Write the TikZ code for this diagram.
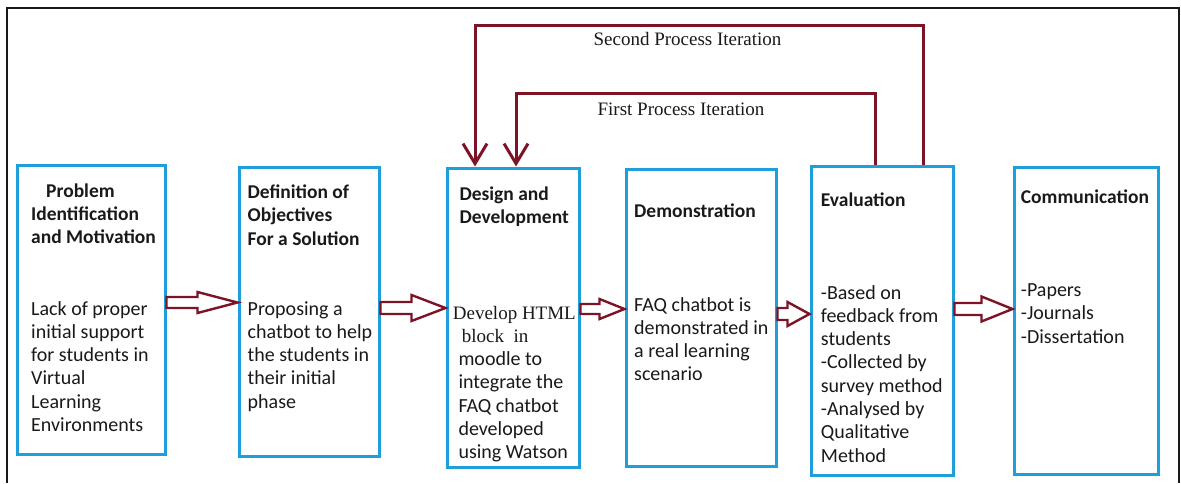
\documentclass[tikz,border=0pt]{standalone}
\usepackage{fontspec}
\setmainfont{Carlito}
\newfontfamily\tnr{Liberation Serif}
\usetikzlibrary{arrows.meta,calc}
\definecolor{boxblue}{RGB}{30,158,218}
\definecolor{maroon}{RGB}{125,20,38}
\definecolor{ink}{RGB}{25,25,25}
\newcommand{\celltext}[1]{\begin{tabular}[t]{@{}l@{}}#1\end{tabular}}
\begin{document}
\begin{tikzpicture}[x=1pt,y=-1pt,
  stage/.style={draw=boxblue,line width=3pt,rectangle,inner sep=0pt,minimum width=#1},
  head/.style={anchor=base west,inner sep=0pt,text=ink,font=\fontsize{19.5}{23.3}\selectfont\bfseries},
  body/.style={anchor=base west,inner sep=0pt,text=ink,font=\fontsize{20}{23.3}\selectfont},
  looplabel/.style={anchor=base,inner sep=0pt,text=ink,font=\tnr\fontsize{19}{23}\selectfont},
  loopline/.style={draw=maroon,line width=3pt,-{Straight Barb[length=20pt,width=24pt,line width=3pt]}},
  blockarrow/.style n args={3}{draw=maroon,line width=2.4pt,line join=miter,
    to path={let \p1=(\tikztostart),\p2=(\tikztotarget) in
      (\x1,{\y1+#3}) -- ({\x2-#1},{\y1+#3}) -- ({\x2-#1},{\y1+#2}) -- (\x2,\y1)
      -- ({\x2-#1},{\y1-#2}) -- ({\x2-#1},{\y1-#3}) -- (\x1,{\y1-#3}) -- cycle}}
]
\useasboundingbox (0,0) rectangle (1181,483);
% outer frame
\coordinate (fbl) at (7,483);
\coordinate (ftl) at (7,8);
\coordinate (ftr) at (1179,8);
\coordinate (fbr) at (1179,483);
\draw[ink,line width=2.2pt] (fbl) -- (ftl) -- (ftr) -- (fbr);

% boxes
\node[stage=148pt,minimum height=289pt] (b1) at (91,309.5) {};
\node[stage=140pt,minimum height=289pt] (b2) at (309,311.5) {};
\node[stage=132pt,minimum height=299pt] (b3) at (513,317.5) {};
\node[stage=150pt,minimum height=297pt] (b4) at (701,317.5) {};
\node[stage=142pt,minimum height=309pt] (b5) at (882,320.5) {};
\node[stage=144pt,minimum height=307pt] (b6) at (1086,320.5) {};

% texts
\node[head] (h1) at (31,197) {\celltext{\hspace*{15pt}Problem\\Identification\\and Motivation}};
\node[body] (t1) at (31,315) {\celltext{Lack of proper\\initial support\\for students in\\Virtual\\Learning\\Environments}};
\node[head] (h2) at (247.5,198.5) {\celltext{Definition of\\Objectives\\For a Solution}};
\node[body] (t2) at (247.5,315) {\celltext{Proposing a\\chatbot to help\\the students in\\their initial\\phase}};
\node[head] (h3) at (459.3,200) {\celltext{Design and\\Development}};
\node[body] (t3) at (458.3,319) {\celltext{{\tnr\fontsize{19}{23}\selectfont\hspace*{-5.6pt}Develop HTML}\\{\tnr\fontsize{19}{23}\selectfont\hspace*{3.4pt}block\ \ in}\\moodle to\\integrate the\\FAQ chatbot\\developed\\using Watson}};
\node[head] (h4) at (634,217) {\celltext{Demonstration}};
\node[body] (t4) at (634,311) {\celltext{FAQ chatbot is\\demonstrated in\\a real learning\\scenario}};
\node[head] (h5) at (820.7,206) {\celltext{Evaluation}};
\node[body] (t5) at (820.7,299) {\celltext{-Based on\\feedback from\\students\\-Collected by\\survey method\\-Analysed by\\Qualitative\\Method}};
\node[head] (h6) at (1020.7,203) {\celltext{Communication}};
\node[body] (t6) at (1020.7,296.5) {\celltext{-Papers\\-Journals\\-Dissertation}};

% block arrows
\coordinate (y1) at (0,302.5);
\coordinate (y2) at (0,308);
\coordinate (y3) at (0,309);
\coordinate (y4) at (0,314);
\coordinate (y5) at (0,309);
\draw[blockarrow={40pt}{10.5pt}{5.5pt}] (b1.east |- y1) to (b2.west |- y1);
\draw[blockarrow={34pt}{13pt}{6pt}] (b2.east |- y2) to (b3.west |- y2);
\draw[blockarrow={25pt}{10pt}{5pt}] (b3.east |- y3) to (b4.west |- y3);
\draw[blockarrow={22pt}{12pt}{6pt}] (b4.east |- y4) to (b5.west |- y4);
\draw[blockarrow={31pt}{12.5pt}{6pt}] (b5.east |- y5) to (b6.west |- y5);

% iteration loops
\coordinate (s2r) at (923,25);
\coordinate (s2l) at (475,25);
\coordinate (s1r) at (875,93);
\coordinate (s1l) at (516,93);
\draw[loopline] (b5.north -| s2r) -- (s2r) -- (s2l) -- (b3.north -| s2l);
\draw[loopline] (b5.north -| s1r) -- (s1r) -- (s1l) -- (b3.north -| s1l);
\node[looplabel] (l2) at (687.5,45) {Second Process Iteration};
\node[looplabel] (l1) at (681,115) {First Process Iteration};
\end{tikzpicture}
\end{document}
